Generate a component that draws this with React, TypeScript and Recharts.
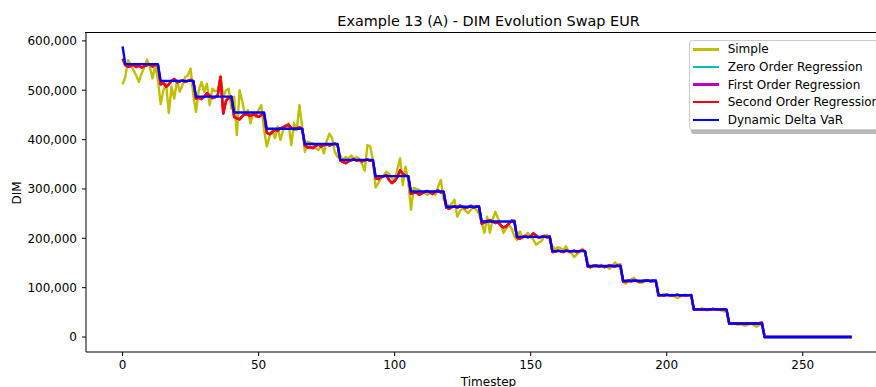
import React from 'react';
import { LineChart, Line, XAxis, YAxis } from 'recharts';

// timesteps 0..268
const TIMESTEPS = Array.from({ length: 269 }, (_, i) => i);

const SIMPLE = [
  512000, 527000, 561000, 551000, 541000, 530000, 517000, 534000, 547000, 562000,
  547000, 524000, 551000, 520000, 472000, 500000, 513000, 454000, 507000, 483000,
  520000, 497000, 510000, 527000, 530000, 544000, 490000, 456000, 500000, 517000,
  497000, 513000, 470000, 503000, 498000, 500000, 529000, 487000, 500000, 503000,
  463000, 487000, 409000, 500000, 477000, 450000, 460000, 433000, 453000, 446000,
  460000, 470000, 420000, 386000, 406000, 419000, 403000, 426000, 399000, 419000,
  428000, 433000, 389000, 433000, 419000, 470000, 426000, 375000, 396000, 394000,
  392000, 382000, 379000, 389000, 372000, 396000, 412000, 403000, 375000, 365000,
  368000, 358000, 365000, 361000, 368000, 361000, 365000, 361000, 350000, 337000,
  389000, 386000, 359000, 303000, 312000, 321000, 328000, 335000, 330000, 322000,
  315000, 340000, 362000, 308000, 345000, 315000, 258000, 302000, 300000, 298000,
  295000, 292000, 288000, 292000, 295000, 288000, 305000, 318000, 278000, 271000,
  264000, 270000, 278000, 244000, 255000, 261000, 256000, 251000, 258000, 264000,
  258000, 250000, 231000, 211000, 244000, 211000, 238000, 254000, 240000, 227000,
  211000, 220000, 227000, 220000, 204000, 197000, 214000, 200000, 205000, 211000,
  203000, 197000, 187000, 192000, 194000, 204000, 207000, 196000, 184000, 178000,
  182000, 180000, 176000, 184000, 172000, 170000, 162000, 168000, 173000, 179000,
  172000, 148000, 140000, 146000, 142000, 145000, 146000, 141000, 143000, 138000,
  144000, 151000, 146000, 148000, 112000, 108000, 114000, 117000, 120000, 113000,
  110000, 110000, 113000, 115000, 114000, 113000, 116000, 86000, 84000, 87000,
  84000, 83000, 86000, 82000, 79000, 82000, 85000, 86000, 84000, 86000,
  57000, 55000, 56000, 58000, 55000, 54000, 56000, 57000, 55000, 56000,
  54000, 52000, 55000, 27000, 26000, 28000, 25000, 26000, 24000, 23000,
  25000, 27000, 24000, 21000, 24000, 26000, 0, 0, 0, 0,
  0, 0, 0, 0, 0, 0, 0, 0, 0, 0,
  0, 0, 0, 0, 0, 0, 0, 0, 0, 0,
  0, 0, 0, 0, 0, 0, 0, 0, 0,
];

const SECOND_ORDER = [
  564000,
  551000, 548000, 549000, 552000, 547000, 550000, 546000, 549000, 551000, 553000, 548000, 552000, 550000,
  512000, 515000, 507000, 512000, 519000, 523000, 516000, 518000, 520000, 517000, 519000, 521000, 518000,
  483000, 485000, 482000, 487000, 494000, 489000, 484000, 486000, 490000, 527000, 453000, 478000, 485000, 487000,
  446000, 443000, 441000, 447000, 452000, 450000, 448000, 451000, 449000, 446000, 450000, 452000,
  414000, 411000, 415000, 420000, 418000, 423000, 425000, 428000, 430000, 424000, 421000, 423000, 425000, 422000,
  388000, 384000, 385000, 383000, 387000, 390000, 386000, 389000, 391000, 388000, 390000, 392000, 390000,
  358000, 355000, 352000, 356000, 358000, 361000, 357000, 359000, 356000, 358000, 360000, 357000, 358000,
  322000, 320000, 324000, 326000, 328000, 318000, 312000, 316000, 324000, 338000, 331000, 327000, 326000,
  290000, 292000, 293000, 288000, 291000, 294000, 296000, 293000, 290000, 295000, 297000, 293000, 294000,
  262000, 260000, 263000, 265000, 262000, 266000, 264000, 261000, 263000, 266000, 262000, 264000, 265000,
  230000, 232000, 235000, 237000, 234000, 231000, 233000, 226000, 222000, 224000, 230000, 236000, 235000,
  201000, 199000, 203000, 205000, 202000, 204000, 210000, 206000, 201000, 203000, 205000, 202000, 204000,
  172000, 173000, 175000, 174000, 172000, 176000, 174000, 173000, 175000, 172000, 174000, 176000, 173000,
  143000, 142000, 144000, 145000, 143000, 144000, 142000, 143000, 145000, 144000, 143000, 145000, 144000,
  112000, 113000, 114000, 113000, 115000, 114000, 112000, 113000, 114000, 115000, 113000, 114000, 113000,
  84000, 85000, 84000, 86000, 85000, 84000, 85000, 86000, 84000, 85000, 84000, 85000, 85000,
  55000, 56000, 56000, 55000, 56000, 55000, 56000, 57000, 56000, 55000, 56000, 56000, 55000,
  27000, 28000, 27000, 27000, 28000, 27000, 27000, 28000, 27000, 27000, 28000, 28000, 29000,
  0, 0, 0, 0, 0, 0, 0, 0, 0, 0, 0, 0, 0, 0, 0, 0, 0, 0, 0, 0, 0, 0, 0, 0, 0, 0, 0, 0, 0, 0, 0, 0, 0,
];

// zero / first order regressions sit under the second order curve
const ZERO_ORDER = SECOND_ORDER;
const FIRST_ORDER = SECOND_ORDER;

const DYNAMIC_DELTA_VAR = [
  589000,
  553000, 553000, 553000, 553000, 553000, 553000, 553000, 553000, 553000, 553000, 553000, 553000, 553000,
  519000, 519000, 519000, 519000, 519000, 519000, 519000, 519000, 519000, 519000, 519000, 519000, 519000,
  487000, 487000, 487000, 487000, 487000, 487000, 487000, 487000, 487000, 487000, 487000, 487000, 487000, 487000,
  455000, 455000, 455000, 455000, 455000, 455000, 455000, 455000, 455000, 455000, 455000, 455000,
  422000, 422000, 422000, 422000, 422000, 422000, 422000, 422000, 422000, 422000, 422000, 422000, 422000, 422000,
  391000, 391000, 391000, 391000, 391000, 391000, 391000, 391000, 391000, 391000, 391000, 391000, 391000,
  359000, 359000, 359000, 359000, 359000, 359000, 359000, 359000, 359000, 359000, 359000, 359000, 359000,
  326000, 326000, 326000, 326000, 326000, 326000, 326000, 326000, 326000, 326000, 326000, 326000, 326000,
  295000, 295000, 295000, 295000, 295000, 295000, 295000, 295000, 295000, 295000, 295000, 295000, 295000,
  264000, 264000, 264000, 264000, 264000, 264000, 264000, 264000, 264000, 264000, 264000, 264000, 264000,
  234000, 234000, 234000, 234000, 234000, 234000, 234000, 234000, 234000, 234000, 234000, 234000, 234000,
  203000, 203000, 203000, 203000, 203000, 203000, 203000, 203000, 203000, 203000, 203000, 203000, 203000,
  174000, 174000, 174000, 174000, 174000, 174000, 174000, 174000, 174000, 174000, 174000, 174000, 174000,
  144000, 144000, 144000, 144000, 144000, 144000, 144000, 144000, 144000, 144000, 144000, 144000, 144000,
  114000, 114000, 114000, 114000, 114000, 114000, 114000, 114000, 114000, 114000, 114000, 114000, 114000,
  85000, 85000, 85000, 85000, 85000, 85000, 85000, 85000, 85000, 85000, 85000, 85000, 85000,
  56000, 56000, 56000, 56000, 56000, 56000, 56000, 56000, 56000, 56000, 56000, 56000, 56000,
  27500, 27500, 27500, 27500, 27500, 27500, 27500, 27500, 27500, 27500, 27500, 27500, 27500,
  0, 0, 0, 0, 0, 0, 0, 0, 0, 0, 0, 0, 0, 0, 0, 0, 0, 0, 0, 0, 0, 0, 0, 0, 0, 0, 0, 0, 0, 0, 0, 0, 0,
];

const X_TICKS = [0, 50, 100, 150, 200, 250];
const Y_TICKS = [0, 100000, 200000, 300000, 400000, 500000, 600000];

const SERIES = [
  { key: 'simple', name: 'Simple', color: '#bfbf00' },
  { key: 'zero', name: 'Zero Order Regression', color: '#00bfbf' },
  { key: 'first', name: 'First Order Regression', color: '#bf00bf' },
  { key: 'second', name: 'Second Order Regression', color: '#ff0000' },
  { key: 'ddv', name: 'Dynamic Delta VaR', color: '#0000ff' },
];

const data = TIMESTEPS.map((t, i) => ({
  t,
  simple: SIMPLE[i],
  zero: ZERO_ORDER[i],
  first: FIRST_ORDER[i],
  second: SECOND_ORDER[i],
  ddv: DYNAMIC_DELTA_VAR[i],
}));

const FONT = '"DejaVu Sans", sans-serif';
const tickStyle = { fontSize: 12, fill: '#000', fontFamily: FONT };

export default function App() {
  return (
    <div style={{ position: 'absolute', left: 0, top: 0, width: 876, height: 387, overflow: 'hidden', background: '#fff', fontFamily: FONT, color: '#000' }}>
      <LineChart width={900} height={387} data={data} margin={{ top: 33, right: 9, bottom: 0, left: 0 }}>
        <XAxis dataKey="t" type="number" domain={[-13.45, 282.45]} ticks={X_TICKS} allowDataOverflow
          height={35} tick={tickStyle} tickSize={4} tickMargin={4}
          axisLine={{ stroke: '#000', strokeWidth: 1 }} tickLine={{ stroke: '#000', strokeWidth: 1 }} />
        <YAxis type="number" domain={[-30300, 616000]} ticks={Y_TICKS} allowDataOverflow width={86}
          tick={tickStyle} tickSize={4} tickMargin={5}
          tickFormatter={(v: number) => v.toLocaleString('en-US')}
          axisLine={{ stroke: '#000', strokeWidth: 1 }} tickLine={{ stroke: '#000', strokeWidth: 1 }} />
        {SERIES.map(s => (
          <Line key={s.key} type="linear" dataKey={s.key} name={s.name} stroke={s.color} strokeWidth={2.4}
            strokeLinejoin="round" dot={false} activeDot={false} isAnimationActive={false} />
        ))}
      </LineChart>

      {/* top spine */}
      <div style={{ position: 'absolute', left: 85, top: 32, width: 830, height: 1, background: '#000', zIndex: 2 }} />

      <div style={{ position: 'absolute', left: 0, width: 977, top: 13, lineHeight: '17px', fontSize: 14.4, textAlign: 'center', whiteSpace: 'nowrap' }}>
        Example 13 (A) - DIM Evolution Swap EUR
      </div>
      <div style={{ position: 'absolute', left: 0, width: 977, top: 375, lineHeight: '14px', fontSize: 12, textAlign: 'center' }}>
        Timestep
      </div>
      <div style={{ position: 'absolute', left: 16.5, top: 192.5, fontSize: 12, lineHeight: '14px', transform: 'translate(-50%, -50%) rotate(-90deg)' }}>
        DIM
      </div>

      <div style={{ position: 'absolute', left: 688.5, top: 39.5, width: 220, height: 90.5, boxSizing: 'border-box', zIndex: 3,
        border: '1px solid #cccccc', borderRadius: 3, background: 'rgba(255,255,255,0.85)',
        boxShadow: '2px 4px 0 rgba(0,0,0,0.28)', paddingTop: 0.2, paddingLeft: 3.2 }}>
        {SERIES.map(s => (
          <div key={s.key} style={{ display: 'flex', alignItems: 'center', height: 17.6, fontSize: 12, whiteSpace: 'nowrap' }}>
            <span style={{ display: 'inline-block', width: 26.6, height: 2.4, background: s.color, marginRight: 8.4 }} />
            <span>{s.name}</span>
          </div>
        ))}
      </div>
    </div>
  );
}
